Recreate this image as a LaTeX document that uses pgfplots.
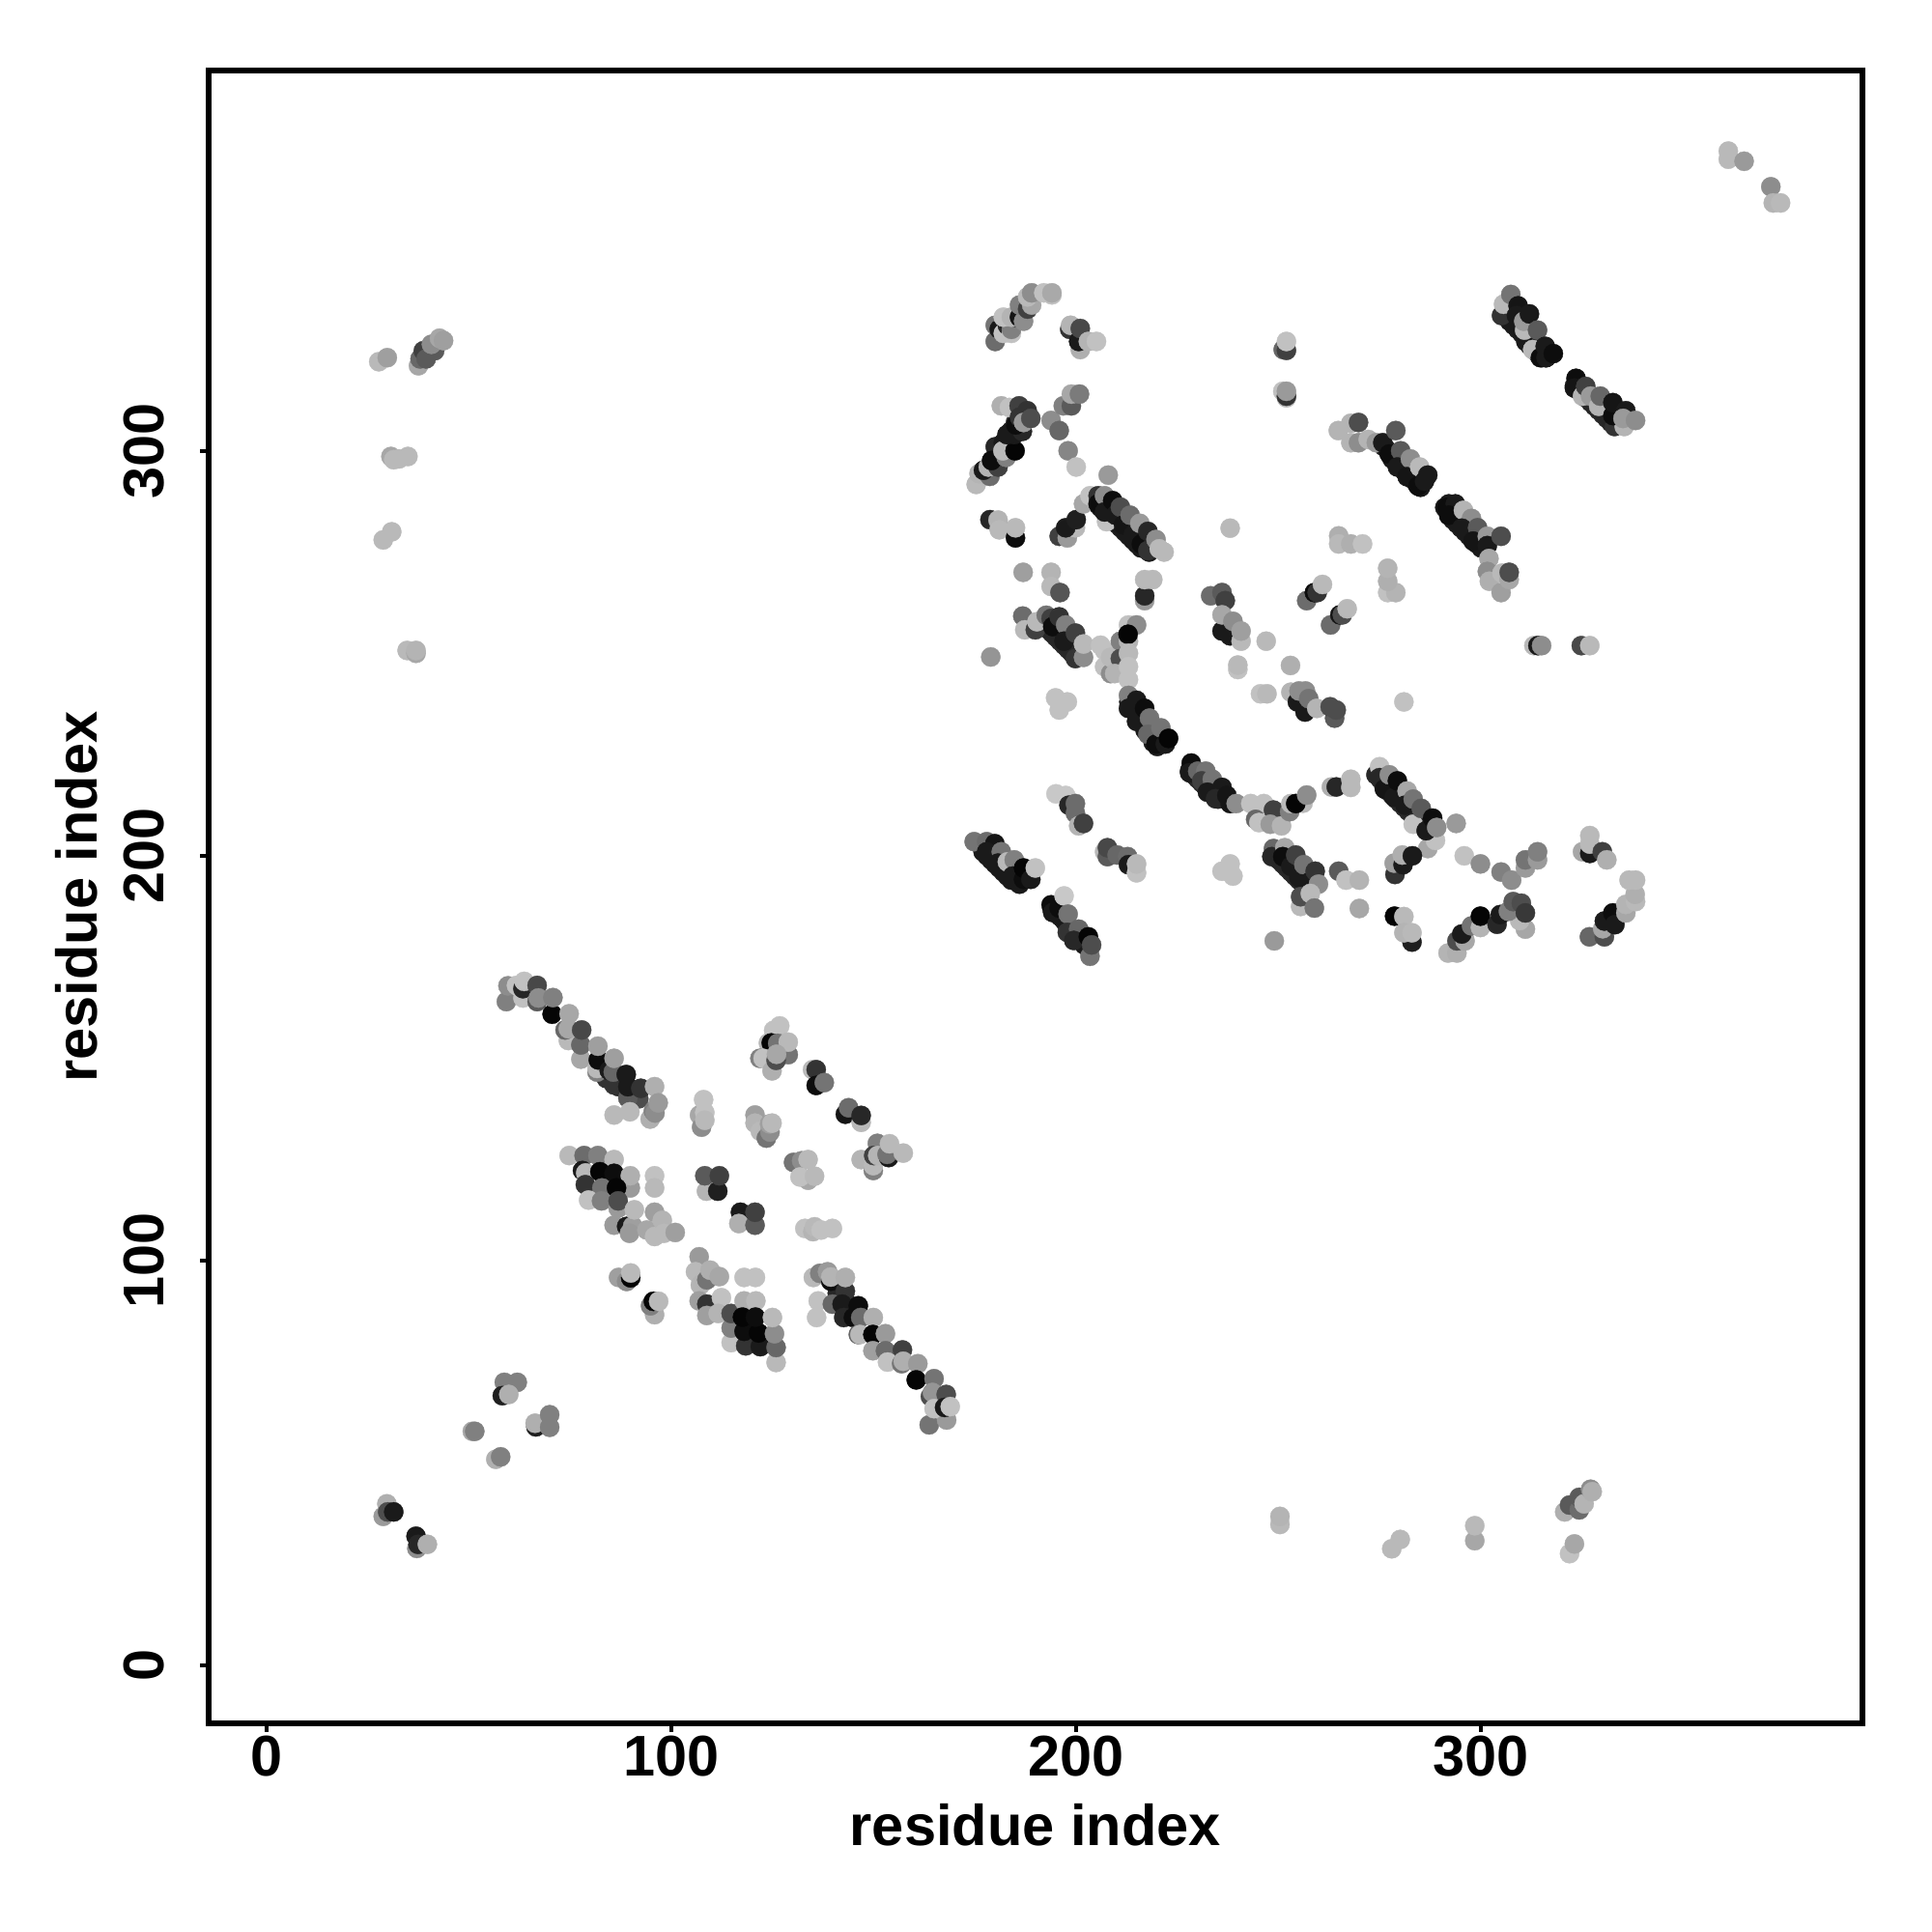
\documentclass[border=0pt]{standalone}
\usepackage{pgfplots}
\pgfplotsset{compat=1.18}
\usepackage{fontspec}
\setmainfont{Liberation Sans}
\begin{document}
\begin{tikzpicture}
\useasboundingbox (0,0) rectangle (20cm,20cm);
\begin{axis}[
  at={(2.16cm,2.16cm)},anchor=south west,
  scale only axis,width=17.115cm,height=17.11cm,
  xmin=-14.2,xmax=394,ymin=-14.2,ymax=393.9,
  axis line style={line width=0.6mm,black},
  xtick={0,100,200,300},ytick={0,100,200,300},
  tick align=outside,xtick pos=bottom,ytick pos=left,
  major tick length=0.9mm,tick style={line width=0.4mm,black},
  /pgf/number format/assume math mode=true,
  ticklabel style={font=\fontsize{16.9}{20}\selectfont\bfseries},
  x tick label style={anchor=center,yshift=-2.5mm},
  y tick label style={anchor=center,xshift=-5.8mm,rotate=90},
  xlabel={residue index},ylabel={residue index},
  every axis x label/.style={at={(axis description cs:0.5,0)},anchor=center,yshift=-10.5mm,font=\fontsize{16.95}{20}\selectfont\bfseries},
  every axis y label/.style={at={(axis description cs:0,0.5)},anchor=center,xshift=-13.7mm,rotate=90,font=\fontsize{16.95}{20}\selectfont\bfseries},
  colormap={g}{gray(0cm)=(0); gray(1cm)=(1)},
  point meta min=0,point meta max=1,
]
\addplot[scatter,only marks,mark=*,mark size=1.0mm,mark options={line width=0.1pt},
  scatter src=explicit,scatter/use mapped color={draw=mapped color,fill=mapped color}] coordinates {
(306,334)[.1] (307,332)[.1] (308,331)[.1] (309,330)[.1] (310,329)[.1] (311,327)[.1] (312,326)[.1] (313,325)[.1] (314,324)[.1] (315,323)[.1] (316,323)[.1]
(323,316)[.15] (324,315)[.15] (325,314)[.15] (326,313)[.15] (327,312)[.15] (328,311)[.15] (329,310)[.15] (330,309)[.15] (331,308)[.15] (332,307)[.15]
(276,301)[.1] (277,300)[.1] (278,298)[.1] (279,297)[.1] (280,296)[.1] (281,295)[.1] (282,294)[.1] (283,293)[.1] (284,292)[.1] (285,291)[.1]
(291,286)[.1] (292,284)[.1] (293,283)[.1] (294,282)[.1] (295,281)[.1] (296,280)[.1] (297,279)[.1] (298,278)[.1] (299,277)[.1] (300,276)[.1]
(205,287)[.1] (206,286)[.1] (207,285)[.1] (208,284)[.1] (209,283)[.1] (210,282)[.1] (211,281)[.1] (212,280)[.1] (213,279)[.1] (214,278)[.1] (215,277)[.1] (216,276)[.1] (218,275)[.1]
(177,201)[.1] (178,200)[.1] (179,199)[.1] (180,198)[.1] (181,197)[.1] (182,196)[.1] (183,195)[.1] (184,194)[.1] (185,194)[.1] (186,193)[.1]
(194,187)[.1] (195,186)[.1] (196,185)[.1] (197,184)[.1] (198,182)[.1] (199,181)[.1] (200,180)[.1] (201,179)[.1] (202,178)[.1]
(213,238)[.1] (214,236)[.1] (215,235)[.1] (216,233)[.1] (217,231)[.1] (218,230)[.1] (219,228)[.1] (220,227)[.1]
(228,221)[.15] (229,220)[.15] (230,219)[.15] (231,218)[.15] (232,217)[.15] (233,216)[.15] (234,215)[.15] (235,214)[.15]
(274,220)[.15] (275,219)[.15] (276,217)[.15] (277,216)[.15] (278,215)[.15] (279,214)[.15] (280,213)[.15] (281,212)[.15] (282,211)[.15] (283,210)[.15] (284,209)[.15] (285,208)[.15] (286,207)[.15] (287,206)[.15]
(249,200)[.15] (250,199)[.15] (251,198)[.15] (252,197)[.15] (253,196)[.15] (254,195)[.15] (255,194)[.15] (256,193)[.15]
(188,257)[.15] (191,257)[.15] (193,256)[.15] (194,255)[.15] (195,254)[.15] (196,253)[.15] (197,252)[.15] (198,251)[.15] (199,250)[.15] (200,249)[.15]
(180,301)[.15] (182,302)[.1] (183,303)[.1] (184,305)[.1] (185,307)[.2] (186,309)[.25]
(141,92)[.15] (143,90)[.1] (145,88)[.1] (84,145)[.2] (87,143)[.15] (90,141)[.2] (92,140)[.3]
(180,327)[.42] (180,331)[.45] (181,330)[.1] (182,329)[.75] (183,331)[.15] (184,329)[.75] (184,330)[.5] (182,333)[.75] (185,333)[.1] (184,333)[.7] (186,333)[.08] (187,332)[.55] (186,336)[.5] (188,335)[.25] (189,336)[.65] (188,338)[.72] (189,339)[.55] (192,339)[.75] (194,338.5)[.75] (194,339)[.66]
(198.4,330)[.2] (198.6,331)[.7] (201,325)[.68] (200.6,327)[.1] (201,330.2)[.28] (203,327)[.7] (205,327)[.75]
(251.1,325)[.4] (251.9,324.8)[.25] (251.9,327)[.75] (251,314.7)[.75] (251.9,313.1)[.72] (251.9,313.5)[.2] (251.9,314.7)[.6]
(175.3,291.7)[.72] (176,294.4)[.7] (178.7,293.7)[.42] (177.1,295.2)[.1] (178.3,296)[.7] (180.7,296)[.25] (179.1,297.6)[.05] (182.7,298.4)[.5] (181.9,300)[.72] (184.9,300)[.02] (182.9,304)[.1] (184.7,304)[.1] (186.7,304.8)[.15] (185.1,306.4)[.05] (181.5,311.1)[.68] (183.5,310.7)[.75] (185.9,311.1)[.25] (186,308.3)[.2] (187.9,309.9)[.2] (187,307)[.6] (188.8,308)[.3]
(193.8,307.5)[.55] (195.8,305)[.4] (196.8,311.1)[.5] (198.8,311.1)[.35] (198.8,314)[.65] (200.8,314)[.48] (198,300)[.52] (200,296)[.75] (207.9,294)[.6]
(178.7,283)[.15] (181,281)[.45] (180.7,282.9)[.7] (181,280.5)[.72] (185,278.5)[.05] (185,281)[.72]
(195.8,278.9)[.25] (197.8,278.5)[.6] (199.8,281)[.72] (197.4,281)[.1] (200,283)[.12]
(201.8,286.9)[.65] (203.4,288.9)[.75] (207.5,282.5)[.75] (205.4,288.9)[.2] (205.4,286.9)[.05] (207,288.9)[.55] (207,284.9)[.1] (209,287.7)[.05] (209.7,284.1)[.1] (210.9,286.1)[.3] (211.7,281.7)[.08] (213.3,284.1)[.42] (214.1,279.3)[.1] (215.7,282.1)[.6] (216.1,277)[.05] (217.7,280.1)[.15] (217.7,275.4)[.2] (219.7,278.1)[.55] (220.5,275.8)[.72] (221.7,275)[.72]
(238,280.9)[.72] (186.9,270)[.62] (193.8,270)[.7] (193.8,266.5)[.72] (196,265)[.33]
(216.9,263)[.6] (216.9,264.2)[.15] (216.9,268.2)[.72] (218.9,268.2)[.72]
(178.9,249.1)[.58]
(186.8,259.2)[.42] (187.3,255.8)[.72] (189.9,255.8)[.25] (190.3,257.8)[.72] (192.6,259.4)[.45] (193.8,258.6)[.25] (194.2,256.6)[.05] (195.8,259)[.2] (197.4,257)[.5] (197,253)[.1] (199.8,255)[.25] (199.8,248.7)[.2] (201.8,249)[.55] (201.8,252.3)[.72]
(206,252)[.75] (207,250.7)[.75] (207,246.7)[.75] (208.5,245)[.55] (208.5,249)[.72] (210.9,253)[.5] (210.9,248.7)[.3] (209.5,245)[.7] (212.9,253)[.7] (212.9,257)[.75] (214.9,257)[.55] (212.8,254.7)[.02] (212.9,250)[.72] (212.9,246.7)[.75] (212.9,243.5)[.75]
(212.9,239.6)[.5] (212.9,236.4)[.1] (214.9,238.4)[.1] (214.9,233.2)[.1] (216.9,236.4)[.05] (218.1,234)[.45] (217.7,230)[.4] (219.7,227.6)[.05] (220.9,231.6)[.45] (222,227.6)[.1] (222.8,229)[.02]
(228.4,222.9)[.05] (228,220.5)[.1] (230,220.9)[.4] (232,220.9)[.45] (231,218.5)[.25] (233.6,218.9)[.45] (232.4,215.7)[.1] (236,216.9)[.1] (234.4,214.1)[.15] (237.2,214.9)[.08] (238,212.9)[.08] (239.5,212.9)[.55]
(243.1,212.9)[.75] (246.3,212.9)[.75] (244.3,209)[.4] (245.1,208.2)[.75] (248.7,211.3)[.25] (247.9,207.8)[.6] (250.7,207.4)[.7] (252.7,210.9)[.5] (253,212.9)[.72] (256,213)[.72] (254.2,212.9)[.02] (256.9,215)[.55]
(194.9,239)[.75] (197.8,238)[.75] (195.8,236)[.75]
(195,215.3)[.78] (197.4,214.9)[.78] (198.2,212.5)[.15] (199.8,212.9)[.42] (199.8,210.5)[.42] (200.6,207.4)[.7] (201.8,208)[.25]
(174.8,203.5)[.45] (177.9,203.5)[.42] (179.9,203)[.08] (177.9,201)[.1] (181.5,201)[.45] (180.7,198.2)[.1] (183,198.5)[.72] (184.7,199)[.5] (184.3,195)[.1] (187,194.2)[.05] (187,197)[.02] (188.8,194.2)[.1] (189.9,197)[.75]
(193.8,187.9)[.05] (194.2,186)[.1] (195.8,187.1)[.05] (197,190.1)[.78] (198,185.6)[.45] (197.8,181.1)[.2] (200.6,181.9)[.4] (199.4,179.1)[.15] (203.4,175.2)[.45] (203,180)[.02] (203.8,178)[.3]
(207,201)[.72] (207.7,199.8)[.35] (207.7,202)[.28] (210.1,200.2)[.4] (212.7,199.8)[.42] (212.9,197.8)[.1] (214.9,195.8)[.75] (214.9,198)[.72]
(236,196.2)[.75] (238,198)[.75] (238.7,195)[.75]
(233.2,264.2)[.42] (236,265)[.35] (236.8,263)[.25] (236,255.5)[.1] (236,259.5)[.65] (238,254.3)[.1] (238.7,257.9)[.55] (240.7,253)[.72] (240.7,255.5)[.62]
(246.9,253)[.72] (239.9,246)[.75] (239.9,247.1)[.72] (252.9,247)[.68] (245.5,240)[.75] (247.1,240)[.72]
(253,240.4)[.7] (254.6,238)[.1] (255,240.7)[.55] (256.6,240.7)[.55] (256.5,235.5)[.1] (257.4,238.8)[.45] (259.4,236.4)[.7] (263.8,234)[.35] (262.7,236.8)[.3] (264.2,236)[.3]
(280.9,238)[.75]
(305,333.4)[.2] (305.5,336.2)[.72] (307.3,338.6)[.45] (309.1,335.8)[.08] (308.7,333.4)[.1] (310.7,329.8)[.72] (310.5,332)[.6] (311.9,333.8)[.1] (313.9,329.8)[.35] (312.7,325)[.72] (314.6,323)[.05] (315.8,325.8)[.1] (316,323)[.1] (317.8,324)[.05]
(323.4,317.9)[.05] (323,315.5)[.08] (325,313.5)[.7] (325.8,315.9)[.25] (327,313.5)[.6] (329,311)[.7] (329.4,313.5)[.4] (332.9,306)[.2] (335.3,306)[.7] (332.5,308.7)[.05] (332.5,311.9)[.08] (335.7,309.9)[.1] (335,308)[.6] (338.1,307.5)[.55]
(264.7,305)[.7] (267.8,302)[.7] (267.8,306.8)[.7] (269.7,307)[.3] (269.7,302)[.55] (272.1,302.8)[.7] (274.1,302)[.6] (275.7,302)[.1] (278.9,305)[.35] (277.3,299.2)[.05] (280.1,300)[.35] (279.3,296)[.1] (282.5,298)[.55] (281.7,293.6)[.08] (284.4,291.3)[.05] (284.8,296)[.72] (286,292.5)[.1] (286.8,294)[.1]
(292,286.9)[.1] (291.5,286)[.05] (293.6,286.9)[.1] (292,284.1)[.05] (295.6,285.3)[.7] (297.6,283.3)[.55] (295.2,280.9)[.1] (299.1,281)[.35] (298,277.7)[.08] (301.5,278.9)[.6] (301.5,276.6)[.1] (304.9,278.9)[.3]
(301.9,273.4)[.65] (301.5,270.2)[.55] (302,267.8)[.68] (304.9,265)[.62] (305.1,269.8)[.72] (306.9,268.2)[.65] (306.9,270)[.3]
(256.9,263)[.42] (258.8,265)[.05] (259.5,265)[.2] (260.8,267)[.72] (262.8,257)[.42] (265.1,259.5)[.08] (265.7,259.5)[.3] (266.9,261)[.72]
(264.8,279)[.68] (264.8,277)[.72] (267.8,277)[.68] (270.7,277)[.75] (276.9,265)[.75] (278.9,265)[.7] (276.9,267.8)[.68] (276.9,271)[.7]
(313,251.9)[.72] (314,251.9)[.1] (314.9,251.9)[.55] (324.7,251.9)[.28] (326.8,251.9)[.72]
(274.9,222)[.75] (274.9,219.3)[.15] (276.1,216.5)[.08] (277.3,220)[.55] (278.5,214.5)[.1] (279.3,218.5)[.05] (281.7,216)[.65] (281.2,212.5)[.1] (283.2,214)[.45] (283.2,207.8)[.75] (285.2,211.7)[.35] (286.8,201.8)[.65] (288.7,203.8)[.75] (286.4,206.2)[.1] (288,209.3)[.05] (289,207)[.55] (293.8,208)[.6]
(263,217)[.68] (264.2,217)[.15] (267.8,216.9)[.72] (267.8,218.9)[.72]
(278.7,195.4)[.2] (278.5,198.2)[.62] (280.7,197.8)[.1] (280.5,200.2)[.68] (283,200)[.1]
(248.7,201.8)[.4] (248.3,199.8)[.15] (251.5,202)[.65] (251,199.8)[.05] (253,197.4)[.1] (254.2,200.2)[.25] (255,194.6)[.1] (256.2,197.8)[.45] (257.5,193.5)[.1] (259,196.2)[.2] (259.8,193)[.55]
(255.4,187.5)[.72] (255.4,189.9)[.3] (257.8,190.7)[.72] (258.8,187.1)[.45]
(264.8,196.2)[.35] (266.6,194)[.75] (269.9,194)[.7] (269.9,187)[.65] (248.9,179)[.6]
(278.6,185.1)[.02] (280.9,185)[.72] (282.9,178.7)[.12] (280.9,181)[.7] (282.9,181)[.72]
(295.8,200)[.75] (299.8,198)[.55] (304.9,196)[.5] (307.5,194)[.55] (310.9,197)[.6] (310.9,199)[.45] (313.9,199)[.6] (313.9,201)[.5]
(291.8,176)[.7] (294,176)[.68] (294,179)[.3] (296,179)[.65] (295.2,180.7)[.1] (297.6,182.7)[.45] (299.8,182.3)[.7] (299.8,185.1)[.02] (303.9,183.1)[.15] (304.7,185.5)[.1] (310.9,181.9)[.65] (309.5,184)[.72] (306.7,186.3)[.5] (307.9,188.7)[.35] (309.9,188.3)[.3] (310.9,185.9)[.22]
(326.8,205)[.72] (325,201)[.65] (326.8,200.6)[.1] (326.8,202.9)[.72] (329.9,201)[.25] (331,199)[.68]
(326.7,180)[.4] (330.4,180)[.3] (330,182)[.65] (330.4,183.9)[.1] (332.5,185.9)[.05] (333,183)[.1] (335.7,185.9)[.65] (335.7,188)[.7] (338.1,188.7)[.72] (338,190.5)[.68] (336.5,194)[.72] (338.1,194)[.72]
(59.3,164)[.5] (59.7,167.9)[.55] (61.8,168)[.75] (63.4,164.9)[.75] (63.4,167.2)[.15] (63.7,169)[.75] (66.9,168)[.28] (66.9,164)[.35] (67.2,164.9)[.55] (70.6,160.9)[.02] (70.8,165)[.5] (74.6,154.4)[.72] (73.8,157)[.4] (74.6,157.3)[.65] (74.8,161)[.65] (77.7,149.8)[.65] (77.7,153.3)[.4] (77.9,157)[.28] (81.7,146.6)[.5] (81.7,147.5)[.72] (82,149.6)[.05] (81.9,153)[.62] (85.9,143.4)[.2] (84.7,147)[.1] (85.7,146.6)[.4] (85.9,150)[.62] (89.3,140.2)[.35] (89.3,143)[.1] (88.9,146)[.1] (85.9,136)[.72] (89.8,136.8)[.72] (92.5,142.6)[.2] (94.8,135)[.68] (95.6,137)[.5] (96,136.5)[.55] (95.9,143)[.68] (96.8,139)[.6]
(74.8,126)[.72] (78.5,126)[.42] (81.9,126)[.5] (85.9,125)[.72] (78.1,122.3)[.1] (78.9,121.7)[.72] (82.4,122)[.02] (85.9,121.6)[.05] (89.9,118)[.6] (89.9,121)[.68] (78.8,118.8)[.2] (82.9,118)[.45] (86.5,118)[.02] (79.6,115)[.75] (82.8,114.8)[.5] (86.9,113)[.6] (86.9,114.8)[.3] (85.9,108.8)[.6] (89,108.5)[.1] (90.5,108.6)[.62] (89.7,106.8)[.6] (90.9,112.6)[.72] (94,107.6)[.65] (95.9,112)[.62] (95.9,106)[.72] (97.8,110)[.7] (98.2,106.8)[.72] (101,107)[.62] (95.9,121)[.75] (95.9,118)[.72]
(107,136)[.65] (108,139.8)[.75] (108.3,136.6)[.75] (107.5,133)[.55] (108.3,134.7)[.72]
(120.7,136)[.62] (120.7,134)[.7] (122,132)[.72] (123.5,130.3)[.45] (124.4,131.8)[.55] (124.3,133.8)[.62] (124.9,134)[.72]
(108.7,117.2)[.7] (108.3,121)[.35] (111.5,117.2)[.12] (111.9,121)[.25] (117.1,112)[.1] (116.7,109.2)[.68] (120.7,108.8)[.35] (120.7,112)[.25]
(126.8,158)[.75] (125.3,156.9)[.75] (124,153.8)[.72] (124.7,153.8)[.02] (126.3,153.7)[.45] (128.9,150.9)[.45] (128.9,154)[.72] (121.9,150)[.5] (122.7,150)[.75] (124.9,146.9)[.68] (125.9,149.5)[.3] (126,151)[.65]
(134.9,147.2)[.72] (135.8,147.2)[.2] (135.8,143.3)[.05] (137.8,144)[.45]
(143,136.2)[.08] (143.8,137.8)[.42] (146.9,134.2)[.72] (146.9,135.9)[.15]
(146.9,125)[.7] (150.9,129)[.5] (149.9,122.3)[.5] (149.9,123.5)[.72] (150,126)[.25] (151,126)[.7] (153.7,125.5)[.1] (153.3,126.3)[.45] (153.9,128.9)[.72] (157.3,126.6)[.72]
(130.2,124.3)[.45] (132.2,124.7)[.55] (133.8,125)[.72] (133.8,119.9)[.65] (131.8,120.7)[.75] (135.4,120.9)[.72]
(133,108)[.75] (135,107.2)[.7] (135.4,108.4)[.72] (137,107.6)[.75] (139.8,108)[.75]
(87,95.9)[.62] (89,94.9)[.55] (90,95.8)[.02] (90,97)[.72]
(95.9,86.7)[.68] (94.9,88.9)[.5] (95.6,90)[.02] (96.9,90)[.72]
(106.9,101)[.6] (106,97.3)[.72] (107.2,94)[.7] (108.8,95.3)[.45] (109.6,97.7)[.68] (111.9,96.1)[.65] (106.9,90.1)[.62] (108.8,89.3)[.2] (112.4,90.9)[.75] (108.8,86.5)[.62] (111.6,87)[.7] (114.8,79.8)[.75] (114.8,83.4)[.5] (114.8,87)[.3]
(118,95.9)[.75] (120.8,95.9)[.75] (118,90.1)[.68] (120.9,90.1)[.72]
(118.4,79)[.2] (122,78.8)[.1] (118,82.6)[.05] (121.6,82.2)[.02] (117.6,86.1)[.02] (120.8,86.1)[.05] (125.9,74.9)[.72] (125.9,78.6)[.4] (125.5,82)[.55] (125,86)[.72]
(135.1,95.9)[.72] (136.7,96.9)[.5] (138.6,97.3)[.6] (139.4,95)[.05] (139.4,96)[.7] (143,92.5)[.2] (143,95.9)[.68]
(136.3,90.1)[.75] (135.9,86)[.75] (139.8,89.3)[.4] (142.2,89.3)[.1] (146.2,88.9)[.05] (142.6,86)[.15] (145,86)[.05] (146.8,86)[.42] (149.9,86)[.68]
(146.2,81.8)[.4] (146.6,81.8)[.72] (149.8,81.8)[.02] (152.9,82)[.6] (149.8,77.8)[.62] (152.9,77.8)[.42] (157.1,78)[.25] (153.4,75)[.75] (156.9,74.6)[.45] (157.3,75.2)[.68] (160.9,74.6)[.6] (160.5,70.6)[.02] (164.9,70.9)[.45] (164,66.5)[.3] (164.5,67.5)[.58] (167.9,67)[.3] (163.7,59.5)[.45] (168,60.7)[.6] (164.9,63.5)[.75] (167.5,63.8)[.1] (168.9,64)[.75]
(27.8,322)[.72] (29.9,323)[.62] (30.8,298.6)[.65] (31.5,297.8)[.72] (32.8,298)[.72] (35,298.6)[.72] (28.9,278)[.72] (31,280)[.72] (34.8,250.7)[.72] (37,250)[.65] (37,250.7)[.7]
(37.6,321)[.65] (38,322.7)[.4] (38.8,324.7)[.25] (39.5,322.7)[.35] (41.6,324.7)[.35] (40.8,326.3)[.55] (42.8,327.8)[.65] (43.8,327.2)[.62]
(58.8,70)[.5] (62,70)[.5] (58.3,66.7)[.12] (59.9,67)[.68] (50.9,57.9)[.65] (51.5,57.9)[.5] (56.7,51)[.68] (57.9,51.6)[.5] (66.6,59)[.12] (66.4,59.9)[.68] (70,62)[.5] (70,58.9)[.5]
(28.9,36.9)[.6] (29.8,40)[.68] (30,38)[.3] (31.5,38)[.1] (37.2,29)[.55] (37,32)[.1] (37.5,30)[.15] (39.8,30)[.68]
(250.3,34.9)[.72] (250.3,36.9)[.7] (277.9,28.9)[.72] (280,31.2)[.72] (298.4,30.9)[.65] (298.4,34.6)[.72] (321.8,27.7)[.75] (323,30.1)[.65]
(320.6,38)[.68] (321.8,39.7)[.35] (324.2,38.5)[.42] (324.2,41.6)[.35] (325.4,40)[.7] (327,43.6)[.55] (327.4,43)[.68]
(361,372)[.72] (361,374)[.72] (364.9,371.5)[.6] (371.5,365.2)[.55] (372.1,361.2)[.7] (373.9,361.2)[.72]
};
\end{axis}
\end{tikzpicture}
\end{document}
